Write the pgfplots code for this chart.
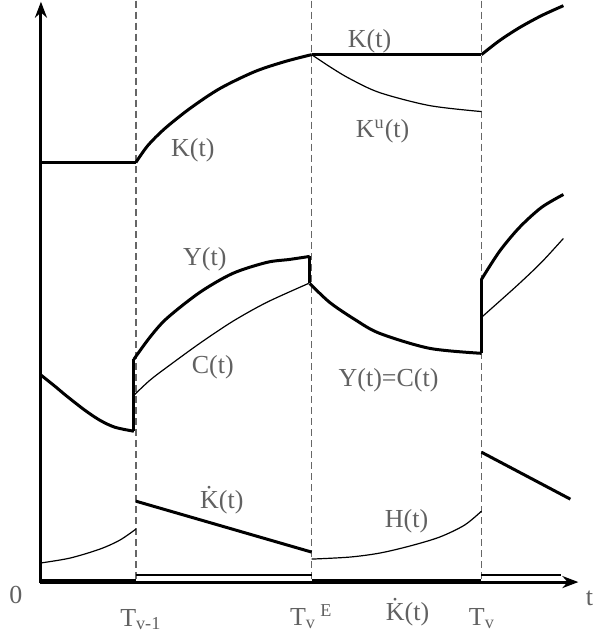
\documentclass[border=0pt]{standalone}
\usepackage{fontspec}
\setmainfont{Liberation Serif}
\usepackage{pgfplots}
\pgfplotsset{compat=1.18}
\usetikzlibrary{arrows.meta}
\tikzset{
  thk/.style={black, line width=1.5pt, smooth},
  thn/.style={black, line width=0.6pt, smooth},
  lbl/.style={anchor=base, text=black!62, font=\fontsize{13}{15}\selectfont, inner sep=0pt},
}
\begin{document}
\begin{tikzpicture}
\begin{axis}[
  scale only axis, width=297.5pt, height=320pt,
  xmin=0, xmax=595, ymin=0, ymax=640, y dir=reverse,
  hide axis, clip=false,
  every axis plot/.append style={no markers},
]
\path (rel axis cs:0,0) rectangle (rel axis cs:1,1);
% dashed period boundaries
\addplot[black!60, line width=0.7pt, dash pattern=on 3.5pt off 2pt] coordinates {(136,0) (136,582)};
\addplot[black!60, line width=0.7pt, dash pattern=on 3.5pt off 2pt] coordinates {(312,0) (312,582)};
\addplot[black!60, line width=0.7pt, dash pattern=on 3.5pt off 2pt] coordinates {(482,0) (482,582)};
% axes
\addplot[black, line width=1.5pt, -{Stealth[length=8pt,width=6pt]}] coordinates {(41,583) (41,1)};
\addplot[black, line width=1.5pt, -{Stealth[length=8pt,width=6pt]}] coordinates {(40,582) (579,582)};
\addplot[black, line width=2pt] coordinates {(40,581) (136,581)};
\addplot[black, line width=2pt] coordinates {(312,581) (482,581)};
\addplot[black, line width=1pt] coordinates {(136,575) (312,575)};
\addplot[black, line width=1pt] coordinates {(482,575) (562,575)};
% K(t)
\addplot[thk] coordinates {(40,162) (136,162)};
\addplot[thk] coordinates {(136,162) (148,145) (165,128) (190,108) (220,88) (255,71) (285,61) (312,54)};
\addplot[thk] coordinates {(312,54) (482,54)};
\addplot[thk] coordinates {(482,54) (500,40) (520,27) (542,15) (564,5)};
% K^u(t)
\addplot[thn] coordinates {(312,54) (330,66) (350,78) (380,92) (430,105) (482,111)};
% Y(t) and C(t)
\addplot[thk] coordinates {(40,374) (55,386) (67,396) (85,410) (100,420) (115,427) (134,431)};
\addplot[thk, sharp plot] coordinates {(134,431) (134,359)};
\addplot[thk] coordinates {(134,359) (150,337) (167,318) (200,292) (233,273) (267,262) (290,259) (310,256)};
\addplot[thk, sharp plot] coordinates {(310,256) (310,283)};
\addplot[thn] coordinates {(134,395) (150,380) (167,367) (200,343) (233,321) (267,302) (309,283)};
\addplot[thk] coordinates {(310,283) (330,302) (355,319) (380,333) (430,348) (482,353)};
\addplot[thk, sharp plot] coordinates {(482,353) (482,279)};
\addplot[thk] coordinates {(482,279) (500,251) (520,227) (542,207) (564,194)};
\addplot[thn] coordinates {(482,317) (500,301) (520,283) (542,262) (564,238)};
% Kdot(t)
\addplot[thk, sharp plot] coordinates {(136,501) (312,552)};
\addplot[thk, sharp plot] coordinates {(482,452) (571,499)};
% H(t)
\addplot[thn] coordinates {(40,563) (70,558) (100,549) (120,540) (136,529)};
\addplot[thn] coordinates {(312,559) (350,557) (380,553) (410,546) (440,537) (465,525) (482,511)};
% labels
\node[lbl] at (axis cs:193,156) {K(t)};
\node[lbl] at (axis cs:370,47) {K(t)};
\node[lbl] at (axis cs:383,137) {K\textsuperscript{u}(t)};
\node[lbl] at (axis cs:205,265) {Y(t)};
\node[lbl] at (axis cs:213,373) {C(t)};
\node[lbl] at (axis cs:389,386) {Y(t)=C(t)};
\node[lbl] at (axis cs:222,508) {\.K(t)};
\node[lbl] at (axis cs:407,527) {H(t)};
\node[lbl] at (axis cs:408,620) {\.K(t)};
\node[lbl, anchor=base west] at (axis cs:120,626) {T\textsubscript{v-1}};
\node[lbl, anchor=base west] at (axis cs:290,625) {T\textsubscript{v}\,\textsuperscript{E}};
\node[lbl, anchor=base west] at (axis cs:469,625) {T\textsubscript{v}};
\node[lbl] at (axis cs:16,603) {0};
\node[lbl] at (axis cs:590,605) {t};
\end{axis}
\end{tikzpicture}
\end{document}
